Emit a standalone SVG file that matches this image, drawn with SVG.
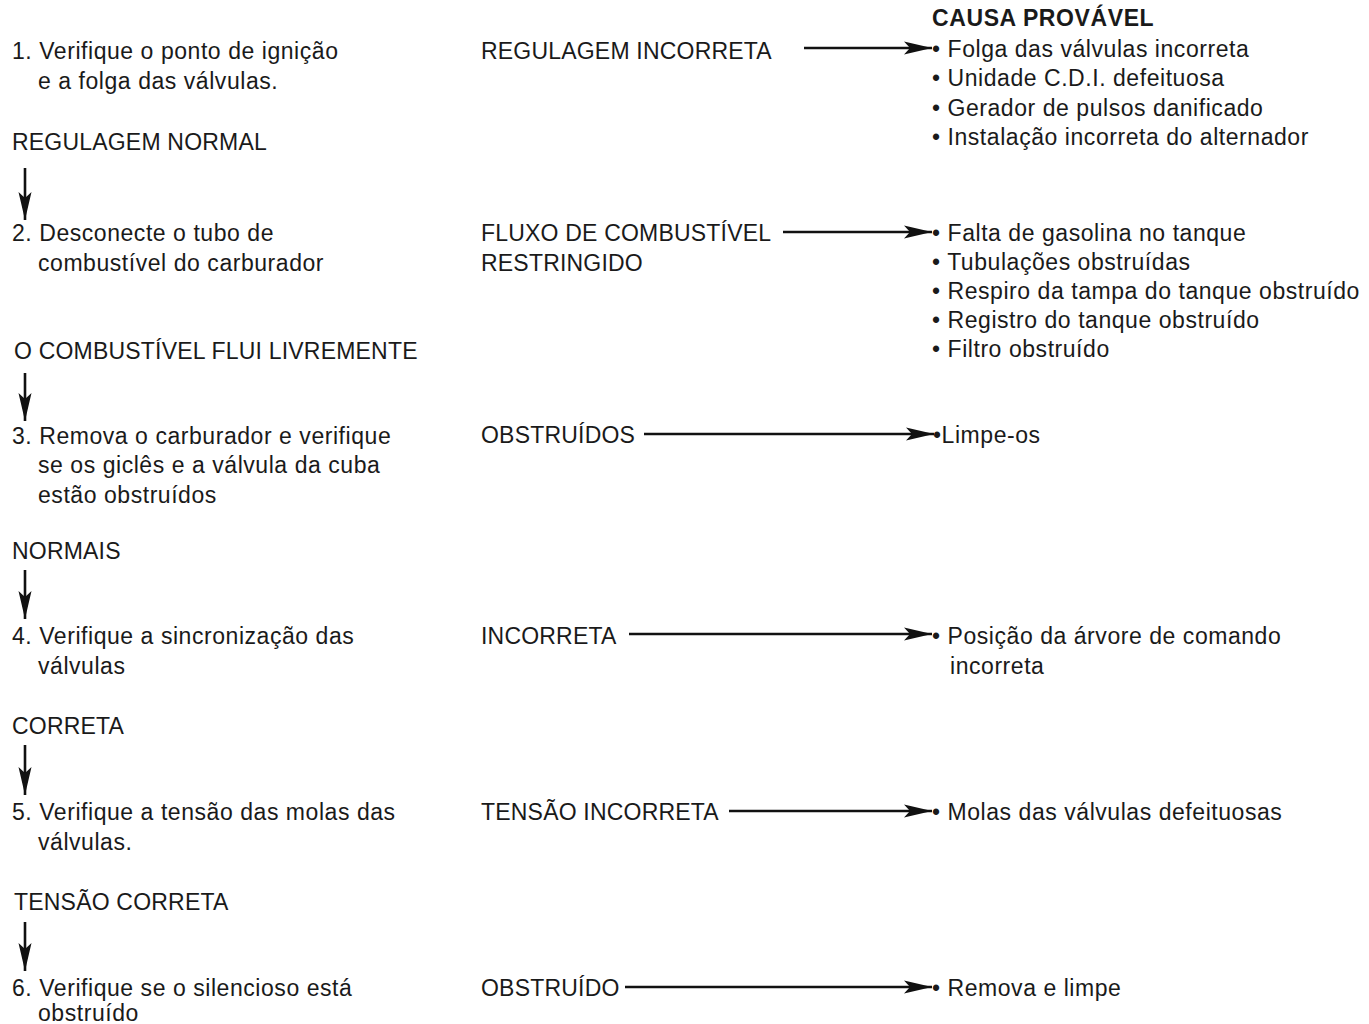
<svg xmlns="http://www.w3.org/2000/svg" width="1369" height="1024" viewBox="0 0 1369 1024">
<style>
text{font-family:"Liberation Sans",Arial,sans-serif;font-size:23px;fill:#1a1a1a;letter-spacing:0.55px}
.c{letter-spacing:0.2px}
.b{font-weight:bold;letter-spacing:0.6px}
.ln{stroke:#111;stroke-width:2.6;fill:none}
</style>
<defs>
<marker id="ah" viewBox="0 0 28 14" refX="28" refY="7" markerWidth="28" markerHeight="14" markerUnits="userSpaceOnUse" orient="auto">
<path d="M0,0.5 L28,7 L0,13.5 L6,7 Z" fill="#111"/>
</marker>
</defs>
<rect width="1369" height="1024" fill="#fff"/>

<g id="header"><text class="b" x="932" y="26">CAUSA PROVÁVEL</text></g>

<g id="step1">
<text x="12" y="59">1. Verifique o ponto de ignição</text>
<text x="38" y="89">e a folga das válvulas.</text>
</g>
<g id="ok1"><text class="c" x="12" y="150">REGULAGEM NORMAL</text></g>
<g id="step2">
<text x="12" y="241">2. Desconecte o tubo de</text>
<text x="38" y="271">combustível do carburador</text>
</g>
<g id="ok2"><text class="c" x="14" y="359">O COMBUSTÍVEL FLUI LIVREMENTE</text></g>
<g id="step3">
<text x="12" y="444">3. Remova o carburador e verifique</text>
<text x="38" y="473">se os giclês e a válvula da cuba</text>
<text x="38" y="503">estão obstruídos</text>
</g>
<g id="ok3"><text class="c" x="12" y="559">NORMAIS</text></g>
<g id="step4">
<text x="12" y="644">4. Verifique a sincronização das</text>
<text x="38" y="674">válvulas</text>
</g>
<g id="ok4"><text class="c" x="12" y="734">CORRETA</text></g>
<g id="step5">
<text x="12" y="820">5. Verifique a tensão das molas das</text>
<text x="38" y="850">válvulas.</text>
</g>
<g id="ok5"><text class="c" x="14" y="910">TENSÃO CORRETA</text></g>
<g id="step6">
<text x="12" y="996">6. Verifique se o silencioso está</text>
<text x="38" y="1021">obstruído</text>
</g>

<g id="fail1"><text class="c" x="481" y="59">REGULAGEM INCORRETA</text></g>
<g id="fail2">
<text class="c" x="481" y="241">FLUXO DE COMBUSTÍVEL</text>
<text class="c" x="481" y="271">RESTRINGIDO</text>
</g>
<g id="fail3"><text class="c" x="481" y="443">OBSTRUÍDOS</text></g>
<g id="fail4"><text class="c" x="481" y="644">INCORRETA</text></g>
<g id="fail5"><text class="c" x="481" y="820">TENSÃO INCORRETA</text></g>
<g id="fail6"><text class="c" x="481" y="996">OBSTRUÍDO</text></g>

<g id="cause1">
<text x="932" y="57">• Folga das válvulas incorreta</text>
<text x="932" y="86">• Unidade C.D.I. defeituosa</text>
<text x="932" y="116">• Gerador de pulsos danificado</text>
<text x="932" y="145">• Instalação incorreta do alternador</text>
</g>
<g id="cause2">
<text x="932" y="241">• Falta de gasolina no tanque</text>
<text x="932" y="270">• Tubulações obstruídas</text>
<text x="932" y="299">• Respiro da tampa do tanque obstruído</text>
<text x="932" y="328">• Registro do tanque obstruído</text>
<text x="932" y="357">• Filtro obstruído</text>
</g>
<g id="cause3"><text x="933" y="443">•Limpe-os</text></g>
<g id="cause4">
<text x="932" y="644">• Posição da árvore de comando</text>
<text x="950" y="674">incorreta</text>
</g>
<g id="cause5"><text x="932" y="820">• Molas das válvulas defeituosas</text></g>
<g id="cause6"><text x="932" y="996">• Remova e limpe</text></g>

<g id="connectors">
<line class="ln" x1="804" y1="48" x2="932" y2="48" marker-end="url(#ah)"/>
<line class="ln" x1="783" y1="232" x2="932" y2="232" marker-end="url(#ah)"/>
<line class="ln" x1="644" y1="434" x2="934" y2="434" marker-end="url(#ah)"/>
<line class="ln" x1="629" y1="634" x2="932" y2="634" marker-end="url(#ah)"/>
<line class="ln" x1="729" y1="811" x2="932" y2="811" marker-end="url(#ah)"/>
<line class="ln" x1="625" y1="987" x2="932" y2="987" marker-end="url(#ah)"/>
<line class="ln" x1="25" y1="168" x2="25" y2="220" marker-end="url(#ah)"/>
<line class="ln" x1="25" y1="373" x2="25" y2="421" marker-end="url(#ah)"/>
<line class="ln" x1="25" y1="570" x2="25" y2="619" marker-end="url(#ah)"/>
<line class="ln" x1="25" y1="745" x2="25" y2="795" marker-end="url(#ah)"/>
<line class="ln" x1="25" y1="922" x2="25" y2="971" marker-end="url(#ah)"/>
</g>
</svg>
